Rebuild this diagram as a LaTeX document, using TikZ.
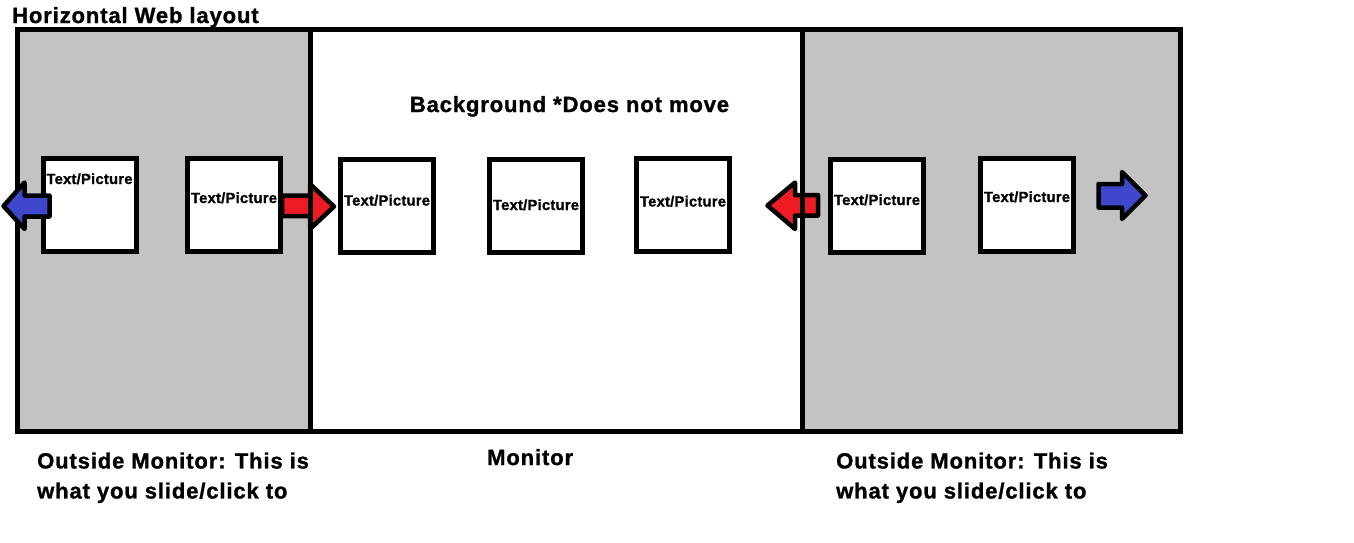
\documentclass[tikz,border=0pt]{standalone}
\usepackage{fontspec}
\newfontfamily\paintfont[LetterSpace=4,FakeBold=1.2]{Liberation Sans}
\newfontfamily\boxfont[LetterSpace=1.5,FakeBold=1]{Liberation Sans}
\definecolor{paintgray}{RGB}{195,195,195}
\definecolor{paintblue}{RGB}{63,72,204}
\definecolor{paintred}{RGB}{237,28,36}
\begin{document}
\begin{tikzpicture}[x=1pt,y=-1pt,
  tpbox/.style={draw=black, fill=white, line width=5pt, minimum width=93pt, minimum height=93pt, inner sep=0pt},
  tplabel/.style={anchor=base, inner sep=0pt, font=\boxfont\bfseries\fontsize{14.8}{17}\selectfont},
  bigtext/.style={inner sep=0pt, font=\paintfont\bfseries\fontsize{22}{30}\selectfont},
  blockarrow/.style={draw=black, line width=4.5pt, line join=round}]
\useasboundingbox (0,0) rectangle (1354,542);
% Grey outside parts of the layout
\fill[paintgray] (17.5,29.5) rectangle (310.5,431.5);
\fill[paintgray] (802.5,29.5) rectangle (1180.5,431.5);
% Red arrows pointing into the monitor
\draw[blockarrow, fill=paintred] (282,195.5) -- (310,195.5) -- (310,184) -- (334,206.5) -- (310,229) -- (310,216) -- (282,216) -- cycle;
\draw[blockarrow, fill=paintred] (767.5,205.5) -- (795,182.5) -- (795,195) -- (818,195) -- (818,215.5) -- (795,215.5) -- (795,229) -- cycle;
% Draw the frame and the monitor edges
\draw[line width=5pt] (17.5,29.5) rectangle (1180.5,431.5);
\draw[line width=5pt] (310.5,29.5) -- (310.5,431.5);
\draw[line width=5pt] (802.5,29.5) -- (802.5,431.5);
% Draw the text/picture boxes
\foreach \n/\x/\y/\t in {1/89.5/204.5/184, 2/234/204.5/203, 3/387/206/205.5, 4/536/206/210, 5/683/205/206.5, 6/877/205.5/205, 7/1027/205/202}
{
  \node[tpbox] (tp\n) at (\x,\y) {};
  \node[tplabel] (lbl\n) at (\x,\t) {Text/Picture};
}
% Blue arrows at the far ends
\draw[blockarrow, fill=paintblue] (3.5,206) -- (24.5,182.5) -- (24.5,195.5) -- (49.5,195.5) -- (49.5,216.5) -- (24.5,216.5) -- (24.5,229) -- cycle;
\draw[blockarrow, fill=paintblue] (1098.5,184) -- (1122,184) -- (1122,172) -- (1145.5,195.5) -- (1122,219) -- (1122,207.5) -- (1098.5,207.5) -- cycle;
% Labels
\node[bigtext, anchor=base west] (title) at (12,23) {Horizontal Web layout};
\node[bigtext, anchor=base] (bg) at (569.5,112) {Background *Does not move};
\node[bigtext, anchor=base west] (mon) at (487,465) {Monitor};
\node[bigtext, anchor=north west, align=left] (outl) at (37,452.3) {Outside Monitor: This is\\what you slide/click to};
\node[bigtext, anchor=north west, align=left] (outr) at (836,452.3) {Outside Monitor: This is\\what you slide/click to};
\end{tikzpicture}
\end{document}
